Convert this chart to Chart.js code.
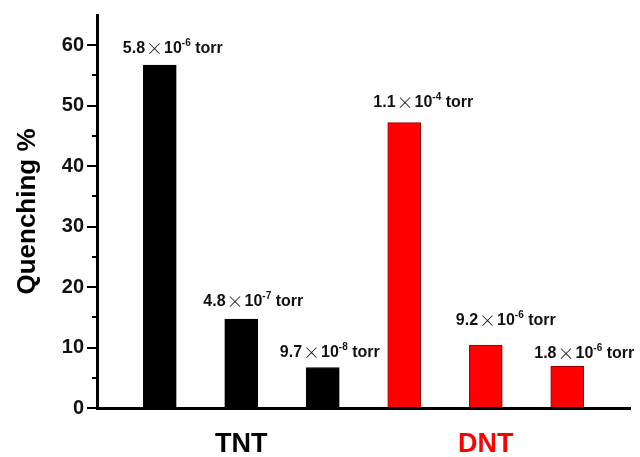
<!DOCTYPE html>
<html>
<head>
<meta charset="utf-8">
<script src="https://cdn.jsdelivr.net/npm/chart.js@4"></script>
<style>
  html, body { margin: 0; padding: 0; background: #fff; }
  #wrap { width: 640px; height: 457px; }
</style>
</head>
<body>
<div id="wrap"><canvas id="myChartQuench"></canvas></div>
<script>
//? Data.

const groupes = ["TNT", "DNT"];
const groupeDesBarres = [0, 0, 0, 1, 1, 1];
const valeursQuenching = [56.7, 14.7, 6.7, 47.2, 10.4, 6.9];
const pressionsMantisse = ["5.8", "4.8", "9.7", "1.1", "9.2", "1.8"];
const pressionsExposant = ["-6", "-7", "-8", "-4", "-6", "-6"];
const ticksY = [0, 10, 20, 30, 40, 50, 60];
const ticksMineursY = [5, 15, 25, 35, 45, 55];

//? -------------------------------------------------

//? Styles.

const couleursGroupes = ["#000000", "#ff0000"];
const bordsGroupes = ["#000000", "#9a0000"];
// offsets of each pressure label from its bar top (px)
const decalageEtiquettes = [
  [13, 17], [12, 18], [7, 15], [19, 20], [20, 25], [17, 13],
];
const policeTexte = "'Liberation Sans', Arial, sans-serif";

//? -------------------------------------------------

//? Plugin : pressure labels + minor ticks.

const pluginEtiquettes = {
  id: "etiquettesPression",
  afterDatasetsDraw(chart) {
    const ctx = chart.ctx;
    const meta = chart.getDatasetMeta(0);
    ctx.save();
    ctx.fillStyle = "#111";
    ctx.textBaseline = "middle";
    meta.data.forEach((barre, i) => {
      const morceaux = [
        { t: pressionsMantisse[i], f: "bold 16px " + policeTexte, dy: 0 },
        { t: "\u00d7", f: "300 17px 'Noto Sans CJK SC', " + policeTexte, dy: 0, pad: 1 },
        { t: "10", f: "bold 16px " + policeTexte, dy: 0 },
        { t: pressionsExposant[i], f: "bold 10px " + policeTexte, dy: -5 },
        { t: " torr", f: "bold 16px " + policeTexte, dy: 0 },
      ];
      let largeur = 0;
      morceaux.forEach((m) => {
        ctx.font = m.f;
        m.w = ctx.measureText(m.t).width + (m.pad || 0) * 2;
        largeur += m.w;
      });
      let x = barre.x + decalageEtiquettes[i][0] - largeur / 2;
      const y = barre.y - decalageEtiquettes[i][1];
      morceaux.forEach((m) => {
        ctx.font = m.f;
        ctx.fillText(m.t, x + (m.pad || 0), y + m.dy);
        x += m.w;
      });
    });

    // minor ticks on the y axis
    const echelleY = chart.scales.y;
    const gauche = chart.chartArea.left;
    ctx.strokeStyle = "#000";
    ctx.lineWidth = 2;
    ticksMineursY.forEach((v) => {
      const py = Math.round(echelleY.getPixelForValue(v));
      ctx.beginPath();
      ctx.moveTo(gauche - 5, py);
      ctx.lineTo(gauche, py);
      ctx.stroke();
    });
    ctx.restore();
  },
};

//? -------------------------------------------------

//? Construction du graphique.

const constructionDuGraphique = () => {
  const ctxQuench = document.getElementById("myChartQuench").getContext("2d");

  const data = {
    datasets: [
      {
        label: "Quenching",
        data: valeursQuenching.map((v, i) => ({ x: i + 1, y: v })),
        backgroundColor: groupeDesBarres.map((g) => couleursGroupes[g]),
        borderColor: groupeDesBarres.map((g) => bordsGroupes[g]),
        borderWidth: 1,
        barThickness: 33,
      },
    ],
  };

  const options = {
    responsive: true,
    maintainAspectRatio: false,
    animation: false,
    layout: { padding: { top: 14, right: 10, bottom: 0, left: 0 } },
    plugins: {
      legend: { display: false },
      tooltip: { enabled: false },
    },
    scales: {
      x: {
        type: "linear",
        offset: false,
        min: 0.23,
        max: 6.77,
        afterBuildTicks: (scale) => {
          scale.ticks = [{ value: 2 }, { value: 5 }];
        },
        afterFit: (scale) => {
          scale.height = 49;
        },
        grid: { display: false, drawTicks: false, offset: false },
        border: { display: true, color: "#000", width: 3 },
        ticks: {
          padding: 20,
          maxRotation: 0,
          autoSkip: false,
          font: { family: policeTexte, size: 27, weight: "bold" },
          color: (c) => couleursGroupes[c.index],
          callback: (v, i) => groupes[i],
        },
      },
      y: {
        min: 0,
        max: 65,
        afterBuildTicks: (scale) => {
          scale.ticks = ticksY.map((v) => ({ value: v }));
        },
        afterFit: (scale) => {
          scale.width = 97;
        },
        grid: {
          drawOnChartArea: false,
          drawTicks: true,
          tickLength: 10,
          lineWidth: 2,
          color: "#000",
        },
        border: { display: true, color: "#000", width: 3 },
        ticks: {
          padding: 3,
          font: { family: policeTexte, size: 20, weight: "bold" },
          color: "#111",
        },
        title: {
          display: true,
          text: "Quenching %",
          color: "#000",
          font: { family: policeTexte, size: 26, weight: "bold" },
          padding: { top: 12, bottom: 0 },
        },
      },
    },
  };

  new Chart(ctxQuench, { type: "bar", data, options, plugins: [pluginEtiquettes] });
};

constructionDuGraphique();
</script>
</body>
</html>
